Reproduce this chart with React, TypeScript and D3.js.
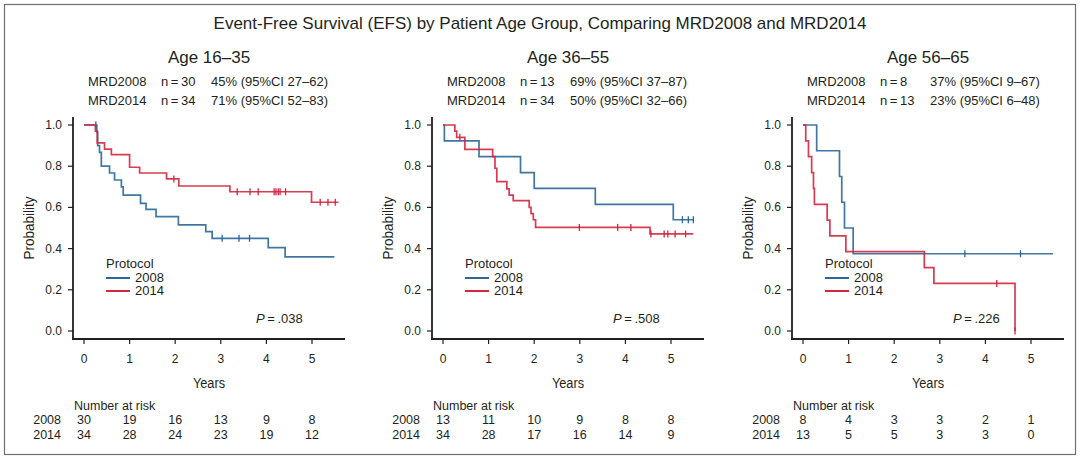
import * as d3 from "d3";

const chartTitle =
  "Event-Free Survival (EFS) by Patient Age Group, Comparing MRD2008 and MRD2014";
const ageGroups = ["Age 16\u201335", "Age 36\u201355", "Age 56\u201365"];
const nLabels2008 = ["n\u2009=\u200930", "n\u2009=\u200913", "n\u2009=\u20098"];
const nLabels2014 = ["n\u2009=\u200934", "n\u2009=\u200934", "n\u2009=\u200913"];
const efs2008 = ["45% (95%CI 27\u201362)", "69% (95%CI 37\u201387)", "37% (95%CI 9\u201367)"];
const efs2014 = ["71% (95%CI 52\u201383)", "50% (95%CI 32\u201366)", "23% (95%CI 6\u201348)"];
const pValues = [".038", ".508", ".226"];
const xTicks = [0, 1, 2, 3, 4, 5];
const yTicks = [0, 0.2, 0.4, 0.6, 0.8, 1.0];
const risk2008 = [
  [30, 19, 16, 13, 9, 8],
  [13, 11, 10, 9, 8, 8],
  [8, 4, 3, 3, 2, 1],
];
const risk2014 = [
  [34, 28, 24, 23, 19, 12],
  [34, 28, 17, 16, 14, 9],
  [13, 5, 5, 3, 3, 0],
];

// Age 16-35
const times2008a = [0, 0.28, 0.3, 0.34, 0.38, 0.56, 0.67, 0.82, 0.86, 1.24, 1.36, 1.58, 2.07, 2.67, 2.81, 4.04, 4.41];
const surv2008a = [1, 0.967, 0.9, 0.867, 0.8, 0.767, 0.733, 0.7, 0.66, 0.62, 0.59, 0.555, 0.515, 0.482, 0.45, 0.405, 0.36];
const censor2008a = [0.26, 3.03, 3.4, 3.63];
const end2008a = 5.49;
const times2014a = [0, 0.25, 0.29, 0.45, 0.6, 1.0, 1.22, 1.81, 2.08, 3.2, 4.99];
const surv2014a = [1, 0.97, 0.913, 0.883, 0.856, 0.795, 0.767, 0.738, 0.704, 0.676, 0.625];
const censor2014a = [1.97, 3.36, 3.64, 3.82, 4.17, 4.21, 4.26, 4.3, 4.42, 5.18, 5.35, 5.51];
const end2014a = 5.58;

// Age 36-55
const times2008b = [0, 0.03, 0.79, 1.7, 2.0, 3.34, 5.05];
const surv2008b = [1, 0.923, 0.846, 0.769, 0.692, 0.615, 0.54];
const censor2008b = [5.25, 5.38, 5.49];
const end2008b = 5.49;
const times2014b = [0, 0.26, 0.3, 0.48, 1.09, 1.14, 1.18, 1.4, 1.45, 1.54, 1.89, 1.93, 1.98, 2.03, 4.54];
const surv2014b = [1, 0.97, 0.94, 0.882, 0.846, 0.79, 0.725, 0.69, 0.66, 0.633, 0.6, 0.57, 0.54, 0.503, 0.471];
const censor2014b = [0.37, 2.99, 3.83, 4.12, 4.56, 4.85, 4.93, 5.09, 5.32];
const end2014b = 5.49;

// Age 56-65
const times2008c = [0, 0.3, 0.8, 0.85, 0.91, 1.1];
const surv2008c = [1, 0.875, 0.75, 0.625, 0.5, 0.375];
const censor2008c = [3.55, 4.77];
const end2008c = 5.48;
const times2014c = [0, 0.06, 0.12, 0.19, 0.23, 0.25, 0.53, 0.59, 0.94, 2.66, 2.87, 4.65];
const surv2014c = [1, 0.923, 0.846, 0.769, 0.692, 0.615, 0.538, 0.462, 0.385, 0.308, 0.231, 0];
const censor2014c = [4.25, 4.65];
const end2014c = 4.65;

const curves2008 = [
  { times: times2008a, surv: surv2008a, censor: censor2008a, end: end2008a },
  { times: times2008b, surv: surv2008b, censor: censor2008b, end: end2008b },
  { times: times2008c, surv: surv2008c, censor: censor2008c, end: end2008c },
];
const curves2014 = [
  { times: times2014a, surv: surv2014a, censor: censor2014a, end: end2014a },
  { times: times2014b, surv: surv2014b, censor: censor2014b, end: end2014b },
  { times: times2014c, surv: surv2014c, censor: censor2014c, end: end2014c },
];

const BLUE = "#2b6898";
const RED = "#d4263f";
const INK = "#231f20";
const FONT = "'Liberation Sans', Arial, sans-serif";

const panelX0 = [84, 443, 803];
const pLabelOffset = [172, 170, 150];

function survAt(times: number[], surv: number[], t: number) {
  let s = surv[0];
  for (let i = 0; i < times.length; i++) if (times[i] <= t) s = surv[i];
  return s;
}

function Curve({ c, color, x, y }: { c: any; color: string; x: any; y: any }) {
  const pts: [number, number][] = c.times.map((t: number, i: number) => [t, c.surv[i]]);
  pts.push([c.end, c.surv[c.surv.length - 1]]);
  const line = d3
    .line<[number, number]>()
    .x((d) => x(d[0]))
    .y((d) => y(d[1]))
    .curve(d3.curveStepAfter);
  return (
    <g>
      <path d={line(pts) || ""} fill="none" stroke={color} strokeWidth={1.7} strokeOpacity={0.9} />
      {c.censor.map((t: number, i: number) => {
        const cy = y(survAt(c.times, c.surv, t));
        return (
          <line key={i} x1={x(t)} x2={x(t)} y1={cy - 3.5} y2={cy + 3.5} stroke={color} strokeWidth={1.3} />
        );
      })}
    </g>
  );
}

function Panel({ i }: { i: number }) {
  const x0 = panelX0[i];
  const x = d3.scaleLinear().domain([0, 5]).range([x0, x0 + 228]);
  const y = d3.scaleLinear().domain([0, 1]).range([331, 125]);
  const axisX = x0 - 11;
  const axisY = 339;
  const xEnd = x0 + 261;
  const mid = (axisX + xEnd) / 2;
  return (
    <g fontFamily={FONT} fill={INK}>
      <text x={mid} y={63} fontSize={17} textAnchor="middle">
        {ageGroups[i]}
      </text>
      <g fontSize={13}>
        <text x={x0 + 4} y={86}>MRD2008</text>
        <text x={x0 + 77} y={86}>{nLabels2008[i]}</text>
        <text x={x0 + 127} y={86}>{efs2008[i]}</text>
        <text x={x0 + 4} y={105}>MRD2014</text>
        <text x={x0 + 77} y={105}>{nLabels2014[i]}</text>
        <text x={x0 + 127} y={105}>{efs2014[i]}</text>
      </g>

      {/* axes */}
      <line x1={axisX} x2={axisX} y1={117} y2={axisY + 1} stroke={INK} strokeWidth={1.8} />
      <line x1={axisX - 1} x2={xEnd} y1={axisY} y2={axisY} stroke={INK} strokeWidth={1.8} />
      {yTicks.map((t) => (
        <g key={t}>
          <line x1={axisX - 5} x2={axisX} y1={y(t)} y2={y(t)} stroke={INK} strokeWidth={1.2} />
          <text x={axisX - 11} y={y(t) + 4} fontSize={12} textAnchor="end">
            {t.toFixed(1)}
          </text>
        </g>
      ))}
      {xTicks.map((t) => (
        <g key={t}>
          <line x1={x(t)} x2={x(t)} y1={axisY} y2={axisY + 5} stroke={INK} strokeWidth={1.2} />
          <text x={x(t)} y={363} fontSize={12} textAnchor="middle">
            {t}
          </text>
        </g>
      ))}
      <text
        transform={`translate(${mid},388) scale(0.85,1)`}
        fontSize={15}
        textAnchor="middle"
        fontWeight={500}
      >
        Years
      </text>
      <text
        transform={`translate(${axisX - 39},228) rotate(-90) scale(0.9,1)`}
        fontSize={15}
        textAnchor="middle"
        fontWeight={500}
      >
        Probability
      </text>

      {/* curves */}
      <Curve c={curves2008[i]} color={BLUE} x={x} y={y} />
      <Curve c={curves2014[i]} color={RED} x={x} y={y} />

      {/* legend */}
      <text x={axisX + 33} y={268} fontSize={13}>Protocol</text>
      <line x1={axisX + 33} x2={axisX + 57} y1={278} y2={278} stroke={BLUE} strokeWidth={2} />
      <text x={axisX + 62} y={282} fontSize={13}>2008</text>
      <line x1={axisX + 33} x2={axisX + 57} y1={291} y2={291} stroke={RED} strokeWidth={2} />
      <text x={axisX + 62} y={295} fontSize={13}>2014</text>

      <text x={x0 + pLabelOffset[i]} y={323} fontSize={13}>
        <tspan fontStyle="italic">P</tspan>
        {"\u2009=\u2009" + pValues[i]}
      </text>

      {/* number at risk */}
      <text x={axisX + 1} y={410} fontSize={12.5}>Number at risk</text>
      <text x={x0 - 23} y={424} fontSize={12.5} textAnchor="end">2008</text>
      <text x={x0 - 23} y={439} fontSize={12.5} textAnchor="end">2014</text>
      {xTicks.map((t, k) => (
        <g key={t} fontSize={12.5} textAnchor="middle">
          <text x={x(t)} y={424}>{risk2008[i][k]}</text>
          <text x={x(t)} y={439}>{risk2014[i][k]}</text>
        </g>
      ))}
    </g>
  );
}

export default function App() {
  return (
    <svg
      width={1080}
      height={459}
      style={{ position: "absolute", left: 0, top: 0, background: "#fff" }}
    >
      <rect x={0} y={0} width={1080} height={459} fill="#fff" />
      <rect x={4.5} y={4.5} width={1071} height={450} fill="none" stroke="#6d6e71" strokeWidth={1.2} />
      <text x={540} y={29} fontSize={17} textAnchor="middle" fontFamily={FONT} fill={INK}>
        {chartTitle}
      </text>
      {[0, 1, 2].map((i) => (
        <Panel key={i} i={i} />
      ))}
    </svg>
  );
}
